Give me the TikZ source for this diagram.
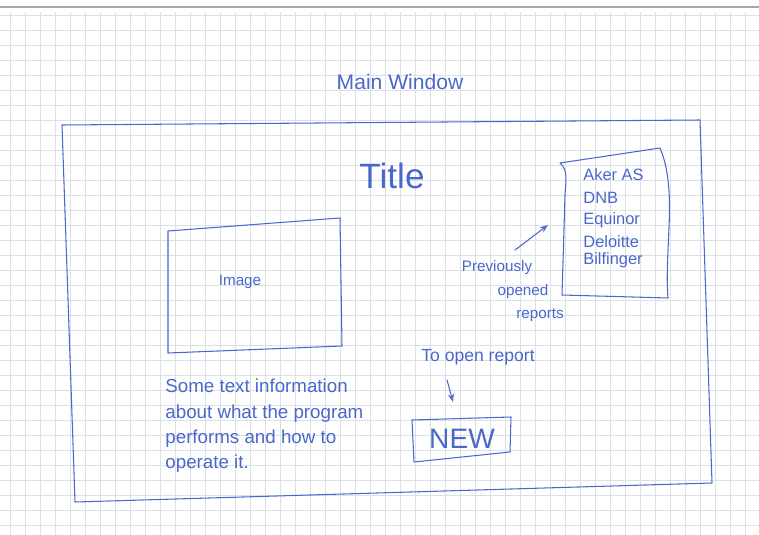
\documentclass[tikz,border=0pt]{standalone}
\usepackage{fontspec}
\setmainfont{Liberation Sans}
\usepackage{xcolor}
\usepackage{tikz}
\usetikzlibrary{arrows.meta, positioning}

\definecolor{pen}{RGB}{74,104,204}
\definecolor{paperline}{RGB}{220,223,228}

\begin{document}
\begin{tikzpicture}[x=0.03cm, y=-0.03cm,
   ink/.style={draw=pen, line width=0.9pt, line join=round, line cap=round},
   hand/.style={text=pen, inner sep=1pt},
   every node/.style={hand}]
\useasboundingbox (0,0) rectangle (759,535);
\fill[white] (0,0) rectangle (759,535);

% Squared paper
\foreach \gx in {10,25,...,759} {
   \draw[paperline, line width=0.5pt] (\gx,12) -- (\gx,535);
}
\foreach \gy in {15,30,...,535} {
   \draw[paperline, line width=0.5pt] (0,\gy) -- (759,\gy);
}
\draw[gray!70, line width=1.2pt] (0,7) -- (759,7);

% Heading
\node (heading) at (400,82) {\fontsize{18}{20}\selectfont Main Window};

% Main window frame
\draw[ink] (62,125) -- (700,120) -- (712,483) -- (75,502) -- cycle;
\node (title) at (392,176) {\fontsize{30}{32}\selectfont Title};

% Image placeholder
\draw[ink] (168,231) -- (340,218) -- (342,346) -- (168,353) -- cycle;
\node (image) at (240,282) {\fontsize{13}{15}\selectfont Image};

% List of reports
\draw[ink] (560,163) .. controls (568,170) and (566,180) .. (565,195)
   -- (562,295) -- (668,298) .. controls (664,250) and (678,190) .. (660,148)
   -- cycle;
\foreach \i/\y/\firm in {0/175/Aker AS, 1/198/DNB, 2/220/Equinor, 3/242/Deloitte, 4/260/Bilfinger} {
   \node[anchor=west] (firm\i) at (582,\y) {\fontsize{14}{16}\selectfont \firm};
}

% Previously opened reports
\node (prev1) at (497,268) {\fontsize{13}{15}\selectfont Previously};
\node (prev2) at (523,292) {\fontsize{13}{15}\selectfont opened};
\node (prev3) at (540,315) {\fontsize{13}{15}\selectfont reports};
\coordinate (prevtail) at (515,250);
\coordinate (prevhead) at (548,225);
\draw[ink, -{Stealth[length=7pt, open]}] (prevtail) -- (prevhead);

% Open report button
\node (toopen) at (478,357) {\fontsize{15}{17}\selectfont To open report};
\coordinate (opentail) at (447,380);
\coordinate (openhead) at (453,402);
\draw[ink, -{Stealth[length=7pt, open]}] (opentail) -- (openhead);
\draw[ink] (412,420) -- (511,417) -- (510,452) -- (414,462) -- cycle;
\node (newbtn) at (462,439) {\fontsize{24}{26}\selectfont NEW};

% Description text
\node[anchor=north west, align=left, font=\fontsize{16}{21.5}\selectfont] (about) at (164,378)
   {Some text information\\about what the program\\performs and how to\\operate it.};
\end{tikzpicture}
\end{document}
